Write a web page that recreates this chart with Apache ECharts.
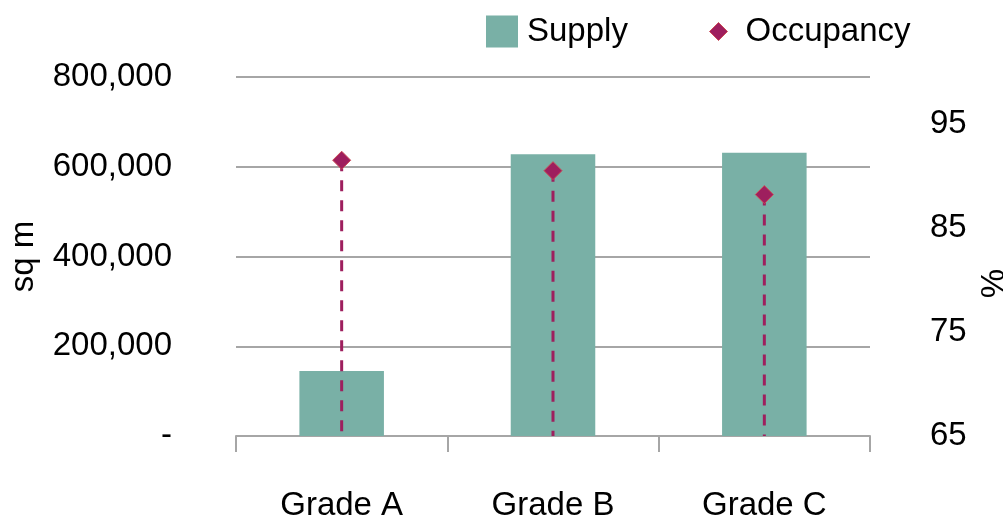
<!DOCTYPE html>
<html>
<head>
<meta charset="utf-8">
<script src="https://cdn.jsdelivr.net/npm/echarts@6/dist/echarts.min.js"></script>
<style>
  html, body { margin: 0; padding: 0; background: #ffffff; }
  #chart { width: 1003px; height: 522px; }
</style>
</head>
<body>
<div id="chart"></div>
<script>
// Office stock by grade: supply (sq m) and occupancy (%)
const categories = ['Grade A', 'Grade B', 'Grade C'];
const supply = [145000, 628000, 631000];
const occupancy = [91.5, 90.5, 88.2];
const leftTicks = [0, 200000, 400000, 600000, 800000];
const rightTicks = [65, 75, 85, 95];

const FONT = 'Liberation Sans, Arial, sans-serif';
const FS = 33;
const TEXT = '#000000';
const BAR = '#79B0A6';
const MARK = '#9E1F5E';
const MARK_EDGE = '#CC4A55';
const GRID = '#A6A6A6';

const chart = echarts.init(document.getElementById('chart'), null, { renderer: 'canvas' });

const legendText = { fontFamily: FONT, fontSize: FS, color: TEXT };

chart.setOption({
  animation: false,
  backgroundColor: '#ffffff',
  grid: { left: 236, right: 133, top: 77, bottom: 86, containLabel: false, outerBoundsMode: 'none' },
  legend: [
    {
      top: 10,
      left: 481,
      itemWidth: 32,
      itemHeight: 32,
      itemGap: 0,
      textStyle: Object.assign({ padding: [0, 0, 0, 4] }, legendText),
      data: [{ name: 'Supply', icon: 'rect' }]
    },
    {
      top: 10,
      left: 704,
      itemWidth: 18,
      itemHeight: 32,
      itemGap: 0,
      textStyle: Object.assign({ padding: [0, 0, 0, 13] }, legendText),
      data: [{
        name: 'Occupancy',
        icon: 'path://M9,7 L18,16 L9,25 L0,16 Z',
        itemStyle: { color: MARK, borderColor: MARK_EDGE, borderWidth: 1, opacity: 1 }
      }]
    }
  ],
  xAxis: {
    type: 'category',
    data: categories,
    boundaryGap: true,
    axisLine: { show: true, lineStyle: { color: GRID, width: 2 } },
    axisTick: { show: true, alignWithLabel: false, length: 16, inside: false, lineStyle: { color: GRID, width: 2 } },
    axisLabel: { margin: 53, fontFamily: FONT, fontSize: FS, color: TEXT }
  },
  yAxis: [
    {
      type: 'value',
      min: leftTicks[0],
      max: leftTicks[leftTicks.length - 1],
      interval: leftTicks[1] - leftTicks[0],
      name: 'sq m',
      nameLocation: 'middle',
      nameGap: 196,
      nameRotate: 90,
      nameTextStyle: { fontFamily: FONT, fontSize: FS, color: TEXT },
      axisLine: { show: false },
      axisTick: { show: false },
      splitLine: { show: true, lineStyle: { color: GRID, width: 2 } },
      axisLabel: {
        margin: 64,
        fontFamily: FONT,
        fontSize: FS,
        color: TEXT,
        formatter: v => v === 0 ? '-' : v.toLocaleString('en-US')
      }
    },
    {
      type: 'value',
      min: rightTicks[0],
      max: 99.5,
      interval: rightTicks[1] - rightTicks[0],
      name: '%',
      nameLocation: 'middle',
      nameGap: 108,
      nameRotate: 90,
      nameTextStyle: { fontFamily: FONT, fontSize: FS, color: TEXT, padding: [0, 54, 0, 0] },
      axisLine: { show: false },
      axisTick: { show: false },
      splitLine: { show: false },
      axisLabel: {
        margin: 60,
        fontFamily: FONT,
        fontSize: FS,
        color: TEXT,
        showMaxLabel: false,
        formatter: v => (rightTicks.indexOf(v) >= 0 ? String(v) : '')
      }
    }
  ],
  series: [
    {
      name: 'Supply',
      type: 'bar',
      yAxisIndex: 0,
      data: supply,
      barWidth: '40%',
      itemStyle: { color: BAR },
      z: 2
    },
    {
      // dashed drop line from each occupancy point down to the axis floor
      name: 'Occupancy drop',
      type: 'custom',
      yAxisIndex: 1,
      data: occupancy,
      silent: true,
      z: 3,
      renderItem: function (params, api) {
        const top = api.coord([api.value(0), api.value(1)]);
        const base = api.coord([api.value(0), rightTicks[0]]);
        return {
          type: 'line',
          shape: { x1: top[0], y1: top[1], x2: base[0], y2: base[1] },
          style: { stroke: MARK, lineWidth: 3, lineDash: [11, 9] }
        };
      },
      encode: { x: 0, y: 1 }
    },
    {
      name: 'Occupancy',
      type: 'scatter',
      yAxisIndex: 1,
      data: occupancy,
      symbol: 'diamond',
      symbolSize: 18,
      itemStyle: { color: MARK, borderColor: MARK_EDGE, borderWidth: 1, opacity: 1 },
      z: 4
    }
  ]
});
</script>
</body>
</html>
